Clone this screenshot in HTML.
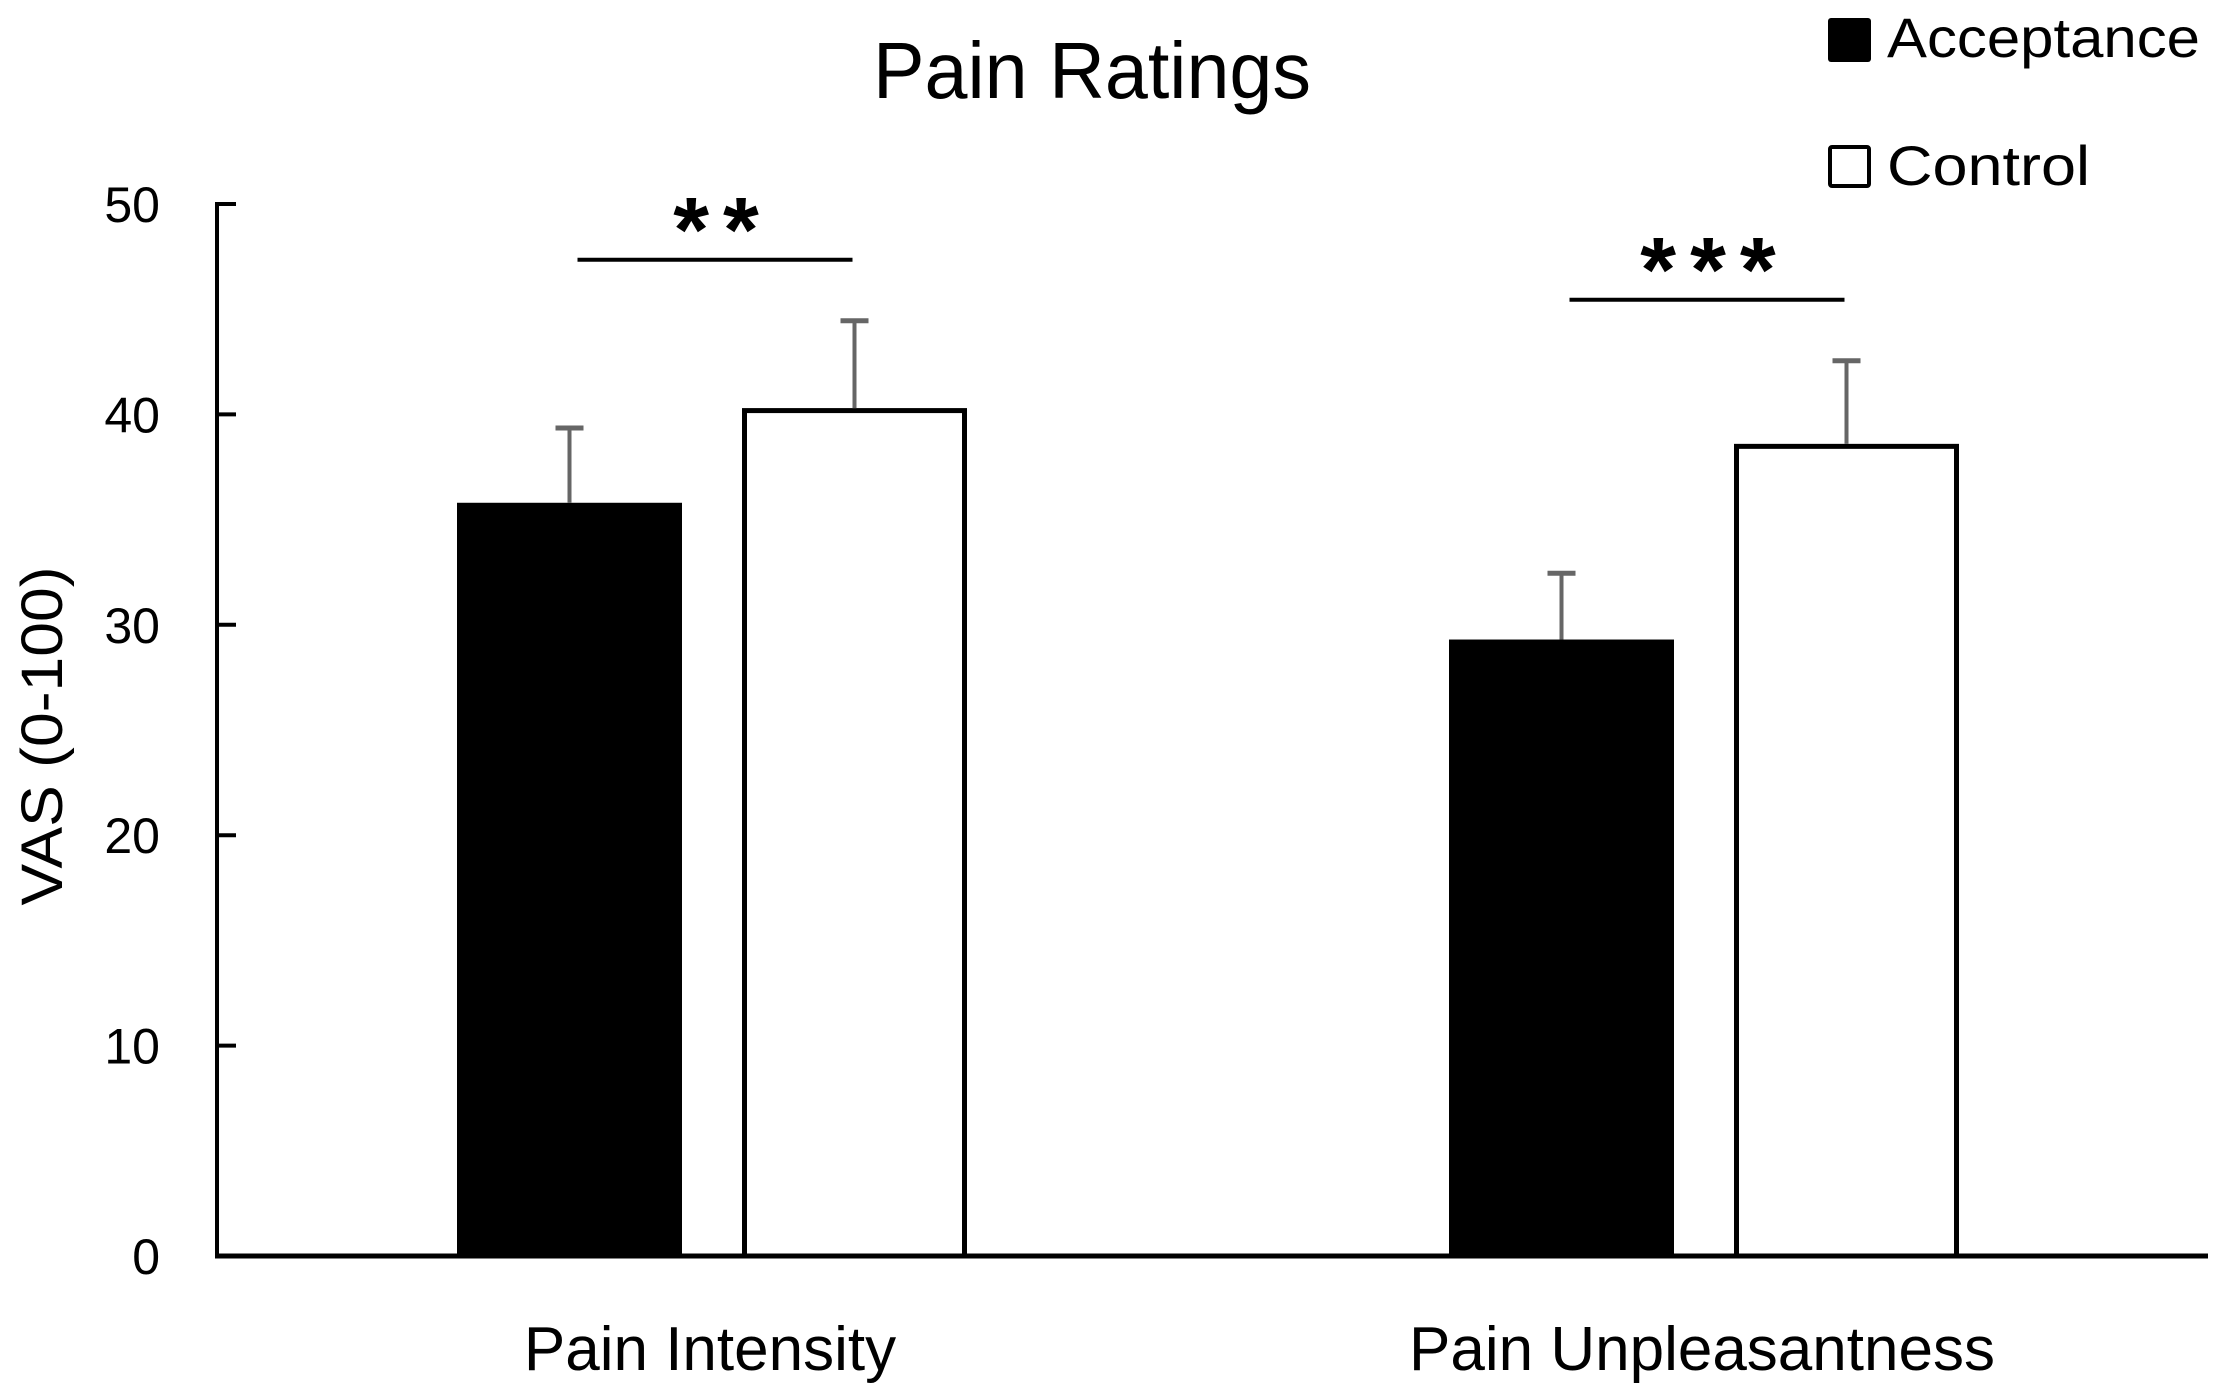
<!DOCTYPE html>
<html><head><meta charset="utf-8"><style>
html,body{margin:0;padding:0;background:#fff;}
svg{display:block;font-family:"Liberation Sans",sans-serif;}
</style></head><body>
<svg id="chart" width="2217" height="1398" viewBox="0 0 2217 1398" xmlns="http://www.w3.org/2000/svg">
<rect x="0" y="0" width="2217" height="1398" fill="#fff"/>
<text x="1092" y="98" font-size="80" text-anchor="middle" textLength="438" lengthAdjust="spacingAndGlyphs">Pain Ratings</text>
<text transform="translate(62,736) rotate(-90)" font-size="58" text-anchor="middle" textLength="339" lengthAdjust="spacingAndGlyphs">VAS (0-100)</text>
<g id="legend">
<rect x="1828" y="18" width="43" height="44" fill="#000" rx="3"/>
<text x="1887" y="57" font-size="56" textLength="313" lengthAdjust="spacingAndGlyphs">Acceptance</text>
<rect x="1830" y="147" width="39" height="39" fill="#fff" stroke="#000" stroke-width="4" rx="2"/>
<text x="1887" y="185" font-size="56" textLength="203" lengthAdjust="spacingAndGlyphs">Control</text>
</g>
<g id="axes"></g>
<g id="bars"></g>
</svg>
<script>
const categories = ["Pain Intensity", "Pain Unpleasantness"];
const acceptanceValues = [35.8, 29.3];
const controlValues = [40.3, 38.6];
const acceptanceErrors = [3.6, 3.2];
const controlErrors = [4.2, 4.0];
const significance = ["**", "***"];
const yTicks = [0, 10, 20, 30, 40, 50];

const NS = "http://www.w3.org/2000/svg";
const x0 = 217, xEnd = 2208, yZero = 1256, yTop = 204, yMax = 50;
function yScale(v){ return yZero - (v / yMax) * (yZero - yTop); }
const groupCenters = [710, 1702];
const barW = 225;
function mk(tag, attrs, parent){
  const el = document.createElementNS(NS, tag);
  for (const k in attrs) el.setAttribute(k, attrs[k]);
  parent.appendChild(el);
  return el;
}
const axes = document.getElementById("axes");
const bars = document.getElementById("bars");

const yAxis = mk("line", {x1:x0, y1:yScale(yMax)-2, x2:x0, y2:yZero+2, stroke:"#000", "stroke-width":4}, axes);


yTicks.forEach(t => {
  const y = yScale(t);
  const tk = mk("line", {x1:x0, y1:y, x2:x0+19, y2:y, stroke:"#000", "stroke-width":4}, axes);
  
  
  const lb = mk("text", {x:160, y:y+18, "font-size":50, "text-anchor":"end"}, axes);
  lb.textContent = String(t);
  
  
});

categories.forEach((c, i) => {
  const cx = groupCenters[i];
  const ax = cx - 253;
  const cxr = cx + 32;
  const ya = yScale(acceptanceValues[i]);
  const b1 = mk("rect", {x:ax, y:ya, width:barW, height:yZero-ya, fill:"#000"}, bars);
  
  
  const yc = yScale(controlValues[i]);
  const b2 = mk("rect", {x:cxr+2.5, y:yc+2.5, width:barW-5, height:yZero-yc-2.5, fill:"#fff", stroke:"#000", "stroke-width":5}, bars);
  
  
  [[ax+barW/2, acceptanceValues[i], acceptanceErrors[i], 'acceptance'], [cxr+barW/2, controlValues[i], controlErrors[i], 'control']].forEach(([ex, v, e, nm]) => {
    const g = mk("g", {}, bars);
    
    
    mk("line", {x1:ex, y1:yScale(v), x2:ex, y2:yScale(v+e), stroke:"#666", "stroke-width":4}, g);
    mk("line", {x1:ex-14, y1:yScale(v+e)+1, x2:ex+14, y2:yScale(v+e)+1, stroke:"#666", "stroke-width":5}, g);
  });
  const top = Math.max(controlValues[i] + controlErrors[i], acceptanceValues[i] + acceptanceErrors[i]);
  const sy = yScale(top) - 60;
  const x1 = ax + barW/2 + 8, x2 = cxr + barW/2 - 2;
  const sl = mk("line", {x1:x1, y1:sy, x2:x2, y2:sy, stroke:"#000", "stroke-width":4}, bars);
  
  
  const st = mk("text", {x:(x1+x2)/2 + 8, y:sy+2, "font-size":92, "font-weight":"bold", "text-anchor":"middle", "letter-spacing":"14"}, bars);
  st.textContent = significance[i];
  
  
  const cl = mk("text", {x:cx, y:1370, "font-size":62, "text-anchor":"middle"}, bars);
  cl.textContent = c;
  
  
});
const xAxis = mk("line", {x1:x0-2, y1:yZero, x2:xEnd, y2:yZero, stroke:"#000", "stroke-width":5}, axes);


document.getElementById("chart").appendChild(axes);
</script>
</body></html>
